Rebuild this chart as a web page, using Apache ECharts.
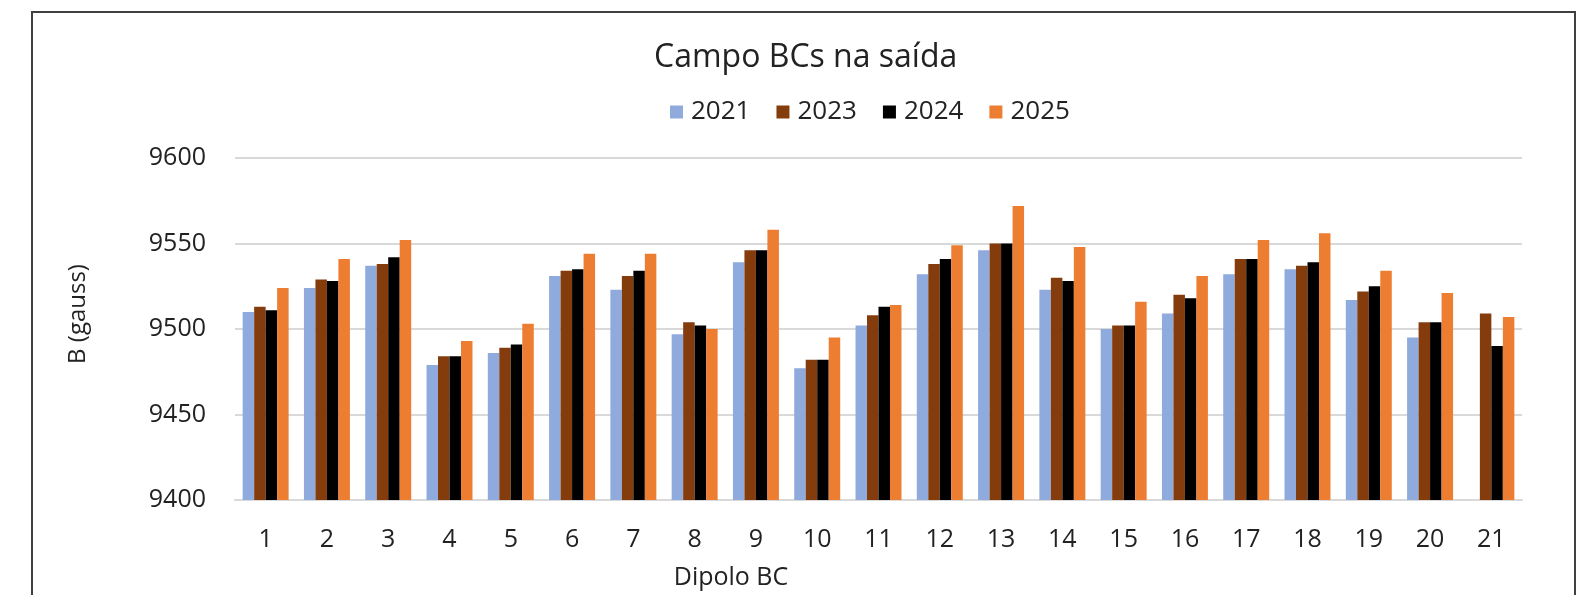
<!DOCTYPE html>
<html>
<head>
<meta charset="utf-8">
<title>Campo BCs na saída</title>
<script src="https://cdn.jsdelivr.net/npm/echarts@6/dist/echarts.min.js"></script>
<style>
    html,body{margin:0;padding:0;background:#fff;}
    #chart{width:1579px;height:595px;}
</style>
</head>
<body>
<div id="chart"></div>
<script>
// dados (gauss)
const dipolos=['1','2','3','4','5','6','7','8','9','10','11','12','13','14','15','16','17','18','19','20','21'];
const anos=['2021','2023','2024','2025'];
const b2021=[9510,9524,9537,9479,9486,9531,9523,9497,9539,9477,9502,9532,9546,9523,9500,9509,9532,9535,9517,9495,null];
const b2023=[9513,9529,9538,9484,9489,9534,9531,9504,9546,9482,9508,9538,9550,9530,9502,9520,9541,9537,9522,9504,9509];
const b2024=[9511,9528,9542,9484,9491,9535,9534,9502,9546,9482,9513,9541,9550,9528,9502,9518,9541,9539,9525,9504,9490];
const b2025=[9524,9541,9552,9493,9503,9544,9544,9500,9558,9495,9514,9549,9572,9548,9516,9531,9552,9556,9534,9521,9507];
const yTicks=[9400,9450,9500,9550,9600];

const cores=['#8FAADC','#843C0C','#000000','#ED7D31'];
const fonte='"Open Sans", sans-serif';

const chart=echarts.init(document.getElementById('chart'));

const valores=[b2021,b2023,b2024,b2025];
const series=anos.map(function(ano,i){
    return {
        name:ano,
        type:'bar',
        data:valores[i],
        barGap:'0%',
        barCategoryGap:'25%',
        itemStyle:{color:cores[i]}
    };
});

chart.setOption({
    animation:false,
    color:cores,
    title:{
        text:'Campo BCs na saída',
        left:649,
        top:37,
        textStyle:{
            fontFamily:fonte,
            fontSize:32,
            fontWeight:'normal',
            color:'#222'
        }
    },
    legend:{
        data:anos,
        left:665,
        top:94,
        icon:'rect',
        itemWidth:13,
        itemHeight:13,
        itemGap:26,
        textStyle:{fontFamily:fonte,fontSize:26,color:'#222',padding:[0,0,0,3]}
    },
    grid:{
        left:235,
        right:57,
        top:158,
        bottom:95
    },
    xAxis:{
        type:'category',
        data:dipolos,
        axisLine:{lineStyle:{color:'#d9d9d9',width:2}},
        axisTick:{show:false},
        axisLabel:{
            margin:27,
            fontFamily:fonte,
            fontSize:25,
            color:'#222'
        }
    },
    yAxis:{
        type:'value',
        min:yTicks[0],
        max:yTicks[yTicks.length-1],
        interval:50,
        axisLine:{show:false},
        axisTick:{show:false},
        splitLine:{lineStyle:{color:'#d9d9d9',width:2}},
        axisLabel:{
            margin:29,
            fontFamily:fonte,
            fontSize:25,
            color:'#222',
            formatter:function(v){return String(v);}
        }
    },
    graphic:[
        {
            type:'rect',
            shape:{x:32,y:12,width:1543,height:600},
            style:{fill:'none',stroke:'#404040',lineWidth:2},
            silent:true
        },
        {
            type:'text',
            x:731,
            y:578,
            style:{
                text:'Dipolo BC',
                font:'25px "Open Sans", sans-serif',
                fill:'#222',
                align:'center',
                verticalAlign:'middle'
            }
        },
        {
            type:'text',
            x:78,
            y:314,
            rotation:Math.PI/2,
            style:{
                text:'B (gauss)',
                font:'24px "Open Sans", sans-serif',
                fill:'#222',
                align:'center',
                verticalAlign:'middle'
            }
        }
    ],
    series:series
});
</script>
</body>
</html>
